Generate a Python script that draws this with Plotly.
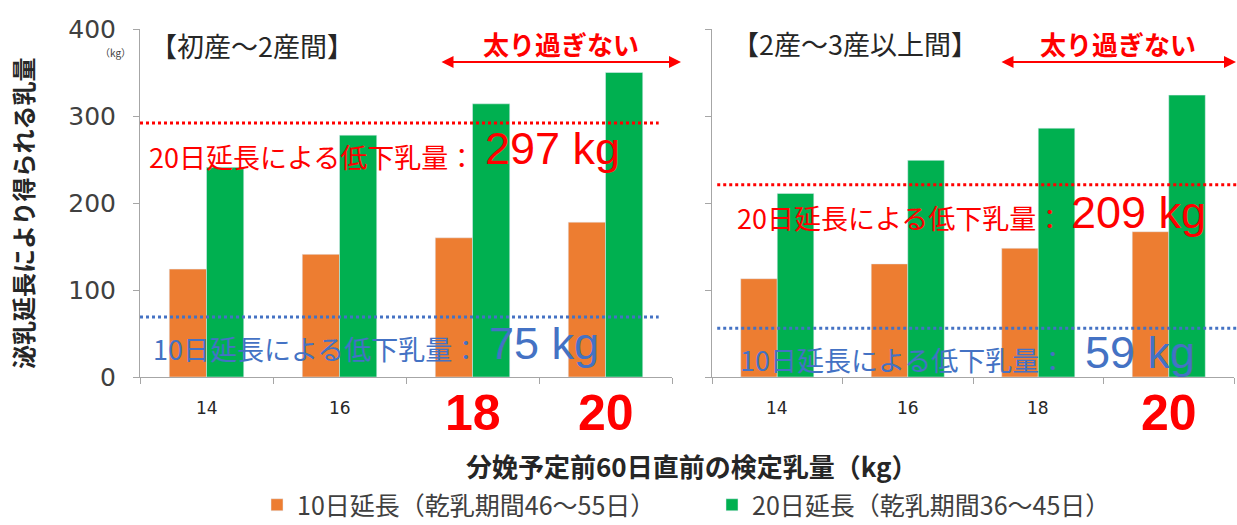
import plotly.graph_objects as go

# ---------------- data ----------------
categories = ["14", "16", "18", "20"]
left_10day = [124, 141, 160, 178]     # 初産～2産間, 10日延長
left_20day = [241, 278, 314, 350]     # 初産～2産間, 20日延長
right_10day = [113, 130, 148, 167]    # 2産～3産以上間, 10日延長
right_20day = [211, 249, 286, 324]    # 2産～3産以上間, 20日延長

left_drop_levels = [292, 69]          # dotted reference lines (20日, 10日)
right_drop_levels = [221, 56]
left_drop_labels = ["297 kg", "75 kg"]
right_drop_labels = ["209 kg", "59 kg"]

left_highlight = ["18", "20"]
right_highlight = ["20"]

y_ticks = [0, 100, 200, 300, 400]
series_names = ["10日延長（乾乳期間46～55日）", "20日延長（乾乳期間36～45日）"]

W, H = 1237, 525
ORANGE = "#ED7D31"
GREEN = "#00B050"
RED = "#FF0000"
BLUE = "#4472C4"
AXIS = "#A6A6A6"
JP = "Noto Sans CJK JP"
LAT = "Liberation Sans"


def px(x):
    return x / W


def py(y):
    return (H - y) / H


fig = go.Figure()
fig.add_trace(go.Bar(x=categories, y=left_10day, name=series_names[0], marker_color=ORANGE,
                     xaxis="x", yaxis="y", legendgroup="a"))
fig.add_trace(go.Bar(x=categories, y=left_20day, name=series_names[1], marker_color=GREEN,
                     xaxis="x", yaxis="y", legendgroup="b"))
fig.add_trace(go.Bar(x=categories, y=right_10day, name=series_names[0], marker_color=ORANGE,
                     xaxis="x2", yaxis="y2", legendgroup="a", showlegend=False))
fig.add_trace(go.Bar(x=categories, y=right_20day, name=series_names[1], marker_color=GREEN,
                     xaxis="x2", yaxis="y2", legendgroup="b", showlegend=False))

xcommon = dict(type="category", range=[-0.5, len(categories) - 0.5],
               showline=True, linecolor=AXIS, linewidth=1, ticks="outside",
               tickson="boundaries", ticklen=6, tickcolor=AXIS, showticklabels=False,
               showgrid=False, zeroline=False, fixedrange=True)
ycommon = dict(range=[0, 400], tickvals=y_ticks, showline=True, linecolor=AXIS, linewidth=1,
               ticks="outside", ticklen=6, tickcolor=AXIS, showgrid=False, zeroline=False)

fig.update_layout(
    width=W, height=H,
    margin=dict(l=0, r=0, t=0, b=0, autoexpand=False),
    paper_bgcolor="white", plot_bgcolor="white",
    barmode="group", bargap=0.44, bargroupgap=0,
    xaxis=dict(domain=[px(140), px(672)], anchor="y", **xcommon),
    xaxis2=dict(domain=[px(712), px(1234)], anchor="y2", **xcommon),
    yaxis=dict(domain=[py(377), py(29)], anchor="x", ticklabelstandoff=12,
               tickfont=dict(family="DejaVu Sans", size=25, color="#404040"), **ycommon),
    yaxis2=dict(domain=[py(377), py(29)], anchor="x2", showticklabels=False, **ycommon),
    showlegend=True,
    legend=dict(orientation="h", x=px(257), xanchor="left", y=py(528), yanchor="bottom",
                font=dict(family=JP, size=25, color="#404040"),
                entrywidth=410, entrywidthmode="pixels", bgcolor="rgba(0,0,0,0)"),
    font=dict(family=JP),
)

shapes = []
ann = []

# dotted reference lines
for lvl, col in zip(left_drop_levels, [RED, BLUE]):
    shapes.append(dict(type="line", xref="x domain", yref="y", x0=0.0, x1=0.975, y0=lvl, y1=lvl,
                       line=dict(color=col, width=3, dash="dot")))
for lvl, col in zip(right_drop_levels, [RED, BLUE]):
    shapes.append(dict(type="line", xref="x2 domain", yref="y2", x0=0.01, x1=1.01, y0=lvl, y1=lvl,
                       line=dict(color=col, width=3, dash="dot")))

# x category labels (placed at category index on each axis)
for xr, hl in (("x", left_highlight), ("x2", right_highlight)):
    for i, c in enumerate(categories):
        if c in hl:
            ann.append(dict(x=i, xref=xr, y=py(413), yref="paper", text="<b>%s</b>" % c,
                            showarrow=False, xanchor="center", yanchor="middle",
                            font=dict(family=LAT, size=50, color=RED)))
        else:
            ann.append(dict(x=i, xref=xr, y=py(408), yref="paper", text=c,
                            showarrow=False, xanchor="center", yanchor="middle",
                            font=dict(family="DejaVu Sans", size=17, color="#262626")))

# panel titles
ann.append(dict(x=px(148), y=py(45), xref="paper", yref="paper", text="【初産～2産間】",
                showarrow=False, xanchor="left", yanchor="middle",
                font=dict(family=JP, size=27, color="#262626")))
ann.append(dict(x=px(730), y=py(44), xref="paper", yref="paper", text="【2産～3産以上間】",
                showarrow=False, xanchor="left", yanchor="middle",
                font=dict(family=JP, size=27, color="#262626")))

# "太り過ぎない" + double arrows
for cx, x0, x1 in ((561, 440, 681), (1118, 1000, 1236)):
    ann.append(dict(x=px(cx), y=py(43), xref="paper", yref="paper", text="<b>太り過ぎない</b>",
                    showarrow=False, xanchor="center", yanchor="middle",
                    font=dict(family=JP, size=26, color=RED)))
    ann.append(dict(x=px(x1), y=py(62), xref="paper", yref="paper", ax=-(x1 - x0), ay=0,
                    axref="pixel", ayref="pixel", text="", showarrow=True,
                    arrowhead=2, arrowside="end+start", arrowsize=1.2, arrowwidth=2,
                    arrowcolor=RED))

# reduction labels
label_specs = [
    (147, 157, "20日延長による低下乳量：", RED, 483, 148, left_drop_labels[0]),
    (151, 348, "10日延長による低下乳量：", BLUE, 487, 344, left_drop_labels[1]),
    (735, 217, "20日延長による低下乳量：", RED, 1069, 212, right_drop_labels[0]),
    (738, 359, "10日延長による低下乳量：", BLUE, 1083, 352, right_drop_labels[1]),
]
for jx, jy, jt, col, nx, ny, nt in label_specs:
    ann.append(dict(x=px(jx), y=py(jy), xref="paper", yref="paper", text=jt,
                    showarrow=False, xanchor="left", yanchor="middle",
                    font=dict(family=JP, size=27, color=col)))
    ann.append(dict(x=px(nx), y=py(ny), xref="paper", yref="paper", text=nt,
                    showarrow=False, xanchor="left", yanchor="middle",
                    font=dict(family=LAT, size=45, color=col)))

# unit + axis titles
ann.append(dict(x=px(115), y=py(53), xref="paper", yref="paper", text="（kg）",
                showarrow=False, xanchor="center", yanchor="middle",
                font=dict(family=JP, size=10, color="#404040")))
ann.append(dict(x=px(22), y=py(213), xref="paper", yref="paper",
                text="<b>泌乳延長により得られる乳量</b>", textangle=-90,
                showarrow=False, xanchor="center", yanchor="middle",
                font=dict(family=JP, size=24, color="#262626")))
ann.append(dict(x=px(692), y=py(465), xref="paper", yref="paper",
                text="<b>分娩予定前60日直前の検定乳量（kg）</b>",
                showarrow=False, xanchor="center", yanchor="middle",
                font=dict(family=JP, size=26, color="#262626")))

fig.update_layout(shapes=shapes, annotations=ann)
fig.write_html("out.html")
